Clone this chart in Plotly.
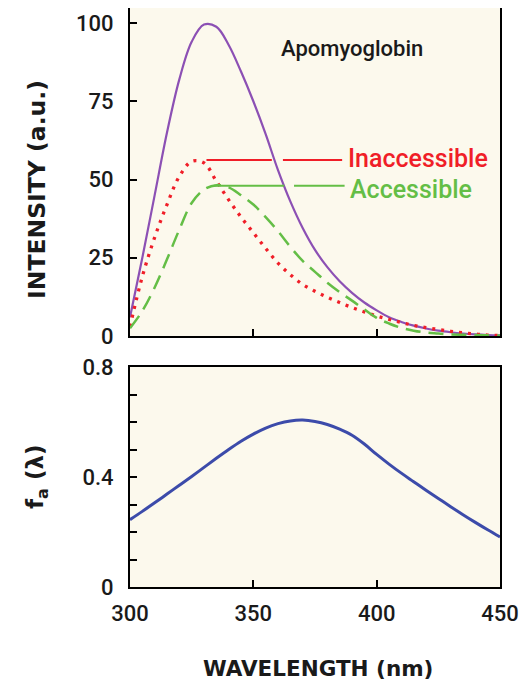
import plotly.graph_objs as go

# wavelength grid (nm)
wavelength = [300, 305, 310, 315, 320, 325, 330, 335, 340, 345, 350, 355, 360, 365, 370,
              375, 380, 385, 390, 395, 400, 405, 410, 415, 420, 425, 430, 435, 440, 445, 450]

# total emission, apomyoglobin
total = [6, 25, 45, 65, 82, 94, 99.5, 98.8, 93, 84.5, 75, 64.5, 53, 43, 34.5,
         27.5, 22, 17.5, 13.8, 10.7, 8.2, 6.0, 4.5, 3.3, 2.4, 1.7, 1.2, 0.8, 0.5, 0.3, 0.2]

# inaccessible component
inaccessible = [3, 19, 31.5, 42, 51, 55.8, 55.3, 49.5, 43.5, 38, 33, 28, 23.3, 19.6, 16.5,
                14.3, 12.4, 10.7, 9.1, 7.7, 6.4, 5.3, 4.3, 3.4, 2.7, 2.1, 1.5, 1.0, 0.6, 0.3, 0.2]

# accessible component
accessible = [2.5, 8, 15.5, 24.5, 34, 42.5, 46.8, 48.2, 47.5, 45, 42, 38, 33.5, 28.5, 24,
              20.5, 17, 14, 11.3, 8.5, 5.8, 4.0, 2.6, 1.7, 1.1, 0.8, 0.5, 0.4, 0.3, 0.2, 0.1]

# fraction accessible f_a(lambda)
f_a = [0.245, 0.275, 0.306, 0.338, 0.37, 0.402, 0.435, 0.468, 0.50, 0.53, 0.556, 0.578, 0.594, 0.604, 0.607,
       0.602, 0.591, 0.574, 0.552, 0.52, 0.482, 0.447, 0.414, 0.383, 0.352, 0.322, 0.292, 0.263, 0.235, 0.208, 0.182]

# leader lines for the labels (x with a gap where the total curve crosses)
inacc_leader_x = [331, 357.5, None, 362, 386]
inacc_leader_y = [56.2, 56.2, None, 56.2, 56.2]
acc_leader_x = [334, 362.5, None, 366.5, 387]
acc_leader_y = [48.0, 48.0, None, 48.0, 48.0]

x_ticks = [300, 350, 400, 450]
top_y_ticks = [0, 25, 50, 75, 100]
bottom_y_ticks = [0, 0.4, 0.8]
bottom_y_labels = ['0', '0.4', '0.8']

PURPLE = 'rgb(140, 80, 180)'
RED = 'rgb(240, 30, 40)'
GREEN = 'rgb(100, 190, 70)'
BLUE = 'rgb(60, 75, 170)'
CREAM = 'rgb(252, 249, 237)'
INK = '#1a1a1a'
FONT = 'Roboto, DejaVu Sans, sans-serif'
TITLE_FONT = 'DejaVu Sans, sans-serif'

# the page body adds an 8px margin, so the figure is 8px smaller each way
# and positions measured on the 527x680 page are shifted by that amount
PAGE_OFFSET = 8
W, H = 527 - PAGE_OFFSET, 680 - PAGE_OFFSET

def px_x(x):
    return (x - PAGE_OFFSET) / W

def px_y(y):
    return 1 - (y - PAGE_OFFSET) / H

fig = go.Figure()

# top panel
fig.add_trace(go.Scatter(x = wavelength, y = total, mode = 'lines', line_shape = 'spline',
                         line = dict(color = PURPLE, width = 2.2), xaxis = 'x', yaxis = 'y'))
fig.add_trace(go.Scatter(x = wavelength, y = inaccessible, mode = 'lines', line_shape = 'spline',
                         line = dict(color = RED, width = 3.3, dash = '3px,6px'), xaxis = 'x', yaxis = 'y'))
fig.add_trace(go.Scatter(x = wavelength, y = accessible, mode = 'lines', line_shape = 'spline',
                         line = dict(color = GREEN, width = 2.5, dash = '15px,8px'), xaxis = 'x', yaxis = 'y'))
fig.add_trace(go.Scatter(x = inacc_leader_x, y = inacc_leader_y, mode = 'lines',
                         line = dict(color = RED, width = 2), xaxis = 'x', yaxis = 'y'))
fig.add_trace(go.Scatter(x = acc_leader_x, y = acc_leader_y, mode = 'lines',
                         line = dict(color = GREEN, width = 2), xaxis = 'x', yaxis = 'y'))

# bottom panel
fig.add_trace(go.Scatter(x = wavelength, y = f_a, mode = 'lines', line_shape = 'spline',
                         line = dict(color = BLUE, width = 3), xaxis = 'x2', yaxis = 'y2'))

axis_common = dict(showline = True, mirror = True, linecolor = 'black', linewidth = 2,
                   ticks = 'inside', tickcolor = 'black', tickwidth = 2, ticklen = 7,
                   showgrid = False, zeroline = False, automargin = False,
                   tickfont = dict(family = FONT, size = 22, color = INK, weight = 500))

x_domain = [px_x(130), px_x(500)]

fig.update_layout(
    width = W,
    height = H,
    margin = dict(l = 0, r = 0, t = 0, b = 0),
    paper_bgcolor = 'white',
    plot_bgcolor = CREAM,
    showlegend = False,
    font = dict(family = FONT, color = INK),
    xaxis = dict(axis_common, domain = x_domain, range = [300, 450],
                 tickvals = x_ticks, showticklabels = False, anchor = 'y'),
    yaxis = dict(axis_common, domain = [px_y(336), px_y(8)], range = [0, 104.8],
                 tickvals = top_y_ticks, anchor = 'x', ticklabelstandoff = 10),
    xaxis2 = dict(axis_common, domain = x_domain, range = [300, 450],
                  tickvals = x_ticks, anchor = 'y2', ticklabelstandoff = 6),
    yaxis2 = dict(axis_common, domain = [px_y(587), px_y(367)], range = [0, 0.8],
                  tickvals = bottom_y_ticks, ticktext = bottom_y_labels, anchor = 'x2', ticklabelstandoff = 10,
                  minor = dict(dtick = 0.1, ticks = 'inside', ticklen = 7, tickwidth = 2, tickcolor = 'black')),
)

fig.add_annotation(text = 'Apomyoglobin', x = 390, y = 92, xref = 'x', yref = 'y',
                   xanchor = 'center', yanchor = 'middle',
                   showarrow = False, font = dict(family = FONT, size = 22, color = INK, weight = 500))
fig.add_annotation(text = 'Inaccessible', x = 387.5, y = 56.6, xref = 'x', yref = 'y',
                   xanchor = 'left', yanchor = 'middle',
                   showarrow = False, font = dict(family = FONT, size = 25, color = RED, weight = 500))
fig.add_annotation(text = 'Accessible', x = 388.5, y = 46.8, xref = 'x', yref = 'y',
                   xanchor = 'left', yanchor = 'middle',
                   showarrow = False, font = dict(family = FONT, size = 25, color = GREEN, weight = 500))
fig.add_annotation(text = 'INTENSITY (a.u.)', x = px_x(37), y = px_y(190), xref = 'paper', yref = 'paper',
                   xanchor = 'center', yanchor = 'middle', textangle = -90, showarrow = False,
                   font = dict(family = TITLE_FONT, size = 23.5, color = INK, weight = 'bold'))
fig.add_annotation(text = 'f<sub>a</sub> (λ)', x = px_x(37), y = px_y(477), xref = 'paper', yref = 'paper',
                   xanchor = 'center', yanchor = 'middle', textangle = -90, showarrow = False,
                   font = dict(family = TITLE_FONT, size = 23, color = INK, weight = 'bold'))
fig.add_annotation(text = 'WAVELENGTH (nm)', x = px_x(318), y = px_y(668), xref = 'paper', yref = 'paper',
                   xanchor = 'center', yanchor = 'middle', showarrow = False,
                   font = dict(family = TITLE_FONT, size = 21.5, color = INK, weight = 'bold'))

fig.write_html("out.html")
